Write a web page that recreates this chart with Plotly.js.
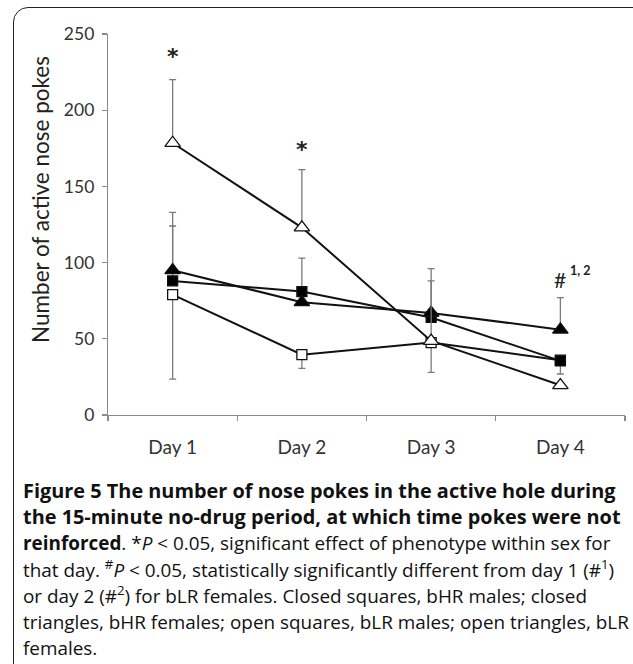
<!DOCTYPE html>
<html>
<head>
<meta charset="utf-8">
<script src="https://cdn.plot.ly/plotly-3.0.1.min.js"></script>
<style>
  html, body { margin: 0; padding: 0; background: #fff; }
  #wrap { position: relative; width: 633px; height: 664px; overflow: hidden; }
  #chart { position: absolute; left: 0; top: 0; width: 633px; height: 664px; }
  #frame { position: absolute; left: 13px; top: 7px; width: 640px; height: 680px;
           border: 1.6px solid #222; border-radius: 15px; pointer-events: none; box-sizing: border-box; }
</style>
</head>
<body>
<div id="wrap">
  <div id="chart"></div>
  <div id="frame"></div>
</div>
<script>
// ---- data ----
const days = ['Day 1', 'Day 2', 'Day 3', 'Day 4'];
const dayPos = [1, 2, 3, 4];
const yTicks = [0, 50, 100, 150, 200, 250];
const yTitle = 'Number of active nose pokes';

// closed squares, bHR males
const bhrMales = [88, 81, 64, 35.5];
const bhrMalesErrUp = [36, 22, null, null];
const bhrMalesErrDown = [null, null, null, 8.6];
// closed triangles, bHR females
const bhrFemales = [95, 74, 67, 56];
const bhrFemalesErrUp = [38, null, 21, 21];
const bhrFemalesErrDown = [null, null, null, null];
// open squares, bLR males
const blrMales = [79, 39.6, 47.5, 36];
const blrMalesErrUp = [null, null, null, null];
const blrMalesErrDown = [55.5, 9, 19.5, null];
// open triangles, bLR females
const blrFemales = [178.5, 123, 48.6, 19.5];
const blrFemalesErrUp = [41.5, 38, 47.4, null];
const blrFemalesErrDown = [null, null, null, null];

// significance marks
const starDays = [1, 2];
const starY = [235, 174];
const hashDay = 4;
const hashY = 88.6;

const captionLines = [
  '<b>Figure 5 The number of nose pokes in the active hole during</b>',
  '<b>the 15-minute no-drug period, at which time pokes were not</b>',
  '<b>reinforced</b>. *<i>P</i> &lt; 0.05, significant effect of phenotype within sex for',
  'that day. <sup>#</sup><i>P</i> &lt; 0.05, statistically significantly different from day 1 (#<sup>1</sup>)',
  'or day 2 (#<sup>2</sup>) for bLR females. Closed squares, bHR males; closed',
  'triangles, bHR females; open squares, bLR males; open triangles, bLR',
  'females.'
];
const captionSizes = [19.9, 19.9, 18.9, 18.9, 18.9, 18.9, 18.9];

// ---- styling ----
const W = 633, H = 664;
const M = { l: 108, r: 8, t: 34, b: 249 };
const plotW = W - M.l - M.r, plotH = H - M.t - M.b;
const errColor = '#7a7a7a';
function errBar(up, down) {
  return { type: 'data', symmetric: false, array: up, arrayminus: down,
           color: errColor, thickness: 1.3, width: 3.5 };
}
function series(name, y, up, down, symbol, size, fill) {
  return {
    type: 'scatter', mode: 'lines+markers', name: name,
    x: dayPos, y: y,
    line: { color: '#111', width: 2 },
    marker: { symbol: symbol, size: size, color: fill, line: { color: '#111', width: 1.3 } },
    error_y: errBar(up, down),
    cliponaxis: false, showlegend: false
  };
}

const traces = [
  series('bLR males', blrMales, blrMalesErrUp, blrMalesErrDown, 'square', 10, '#fff'),
  series('bHR males', bhrMales, bhrMalesErrUp, bhrMalesErrDown, 'square', 10, '#000'),
  series('bHR females', bhrFemales, bhrFemalesErrUp, bhrFemalesErrDown, 'triangle-up', 13.5, '#000'),
  series('bLR females', blrFemales, blrFemalesErrUp, blrFemalesErrDown, 'triangle-up', 13.5, '#fff')
];

const annotations = [];
starDays.forEach((d, i) => annotations.push({
  x: d, y: starY[i], xref: 'x', yref: 'y', text: '<b>*</b>', showarrow: false,
  font: { family: 'DejaVu Sans', size: 22, color: '#222' }
}));
annotations.push({
  x: hashDay, y: hashY, xref: 'x', yref: 'y', text: '#', showarrow: false,
  font: { family: 'Lato', size: 21, color: '#222' }
});
annotations.push({
  x: hashDay, y: hashY, xref: 'x', yref: 'y', text: '<b>1, 2</b>', showarrow: false,
  xanchor: 'left', xshift: 8, yshift: 9,
  font: { family: 'Lato', size: 12.5, color: '#222' }
});
// y-axis title, centred where the reference has it
annotations.push({
  x: (40 - M.l) / plotW, y: (H - M.b - 200) / plotH, xref: 'paper', yref: 'paper',
  text: yTitle, textangle: -90, showarrow: false, xanchor: 'center', yanchor: 'middle',
  font: { family: 'Lato', size: 22.5, color: '#222' }
});
const capTop = 490, capStep = 26.3, capLeft = 21;
captionLines.forEach((t, i) => annotations.push({
  x: (capLeft - M.l) / plotW, y: (H - M.b - (capTop + i * capStep)) / plotH,
  xref: 'paper', yref: 'paper',
  xanchor: 'left', yanchor: 'middle', align: 'left', text: t, showarrow: false,
  font: { family: 'Open Sans', size: captionSizes[i], color: '#111' }
}));

const layout = {
  width: W, height: H,
  margin: M,
  paper_bgcolor: '#fff', plot_bgcolor: '#fff',
  font: { family: 'Lato', color: '#333' },
  xaxis: {
    range: [0.5, 4.5], tickmode: 'array', tickvals: dayPos, ticktext: days,
    ticks: '', showgrid: false, zeroline: false,
    showline: true, linecolor: '#8a8a8a', linewidth: 1.2,
    tickfont: { family: 'Lato', size: 19, color: '#333' },
    ticklabelstandoff: 15,
    minor: { tickmode: 'linear', tick0: 0.5, dtick: 1, ticks: 'outside', ticklen: 5,
             tickcolor: '#8a8a8a', tickwidth: 1.2, showgrid: false }
  },
  yaxis: {
    range: [0, 250], tickmode: 'array', tickvals: yTicks,
    ticks: 'outside', ticklen: 5, tickcolor: '#8a8a8a', tickwidth: 1.2,
    showgrid: false, zeroline: false,
    showline: true, linecolor: '#8a8a8a', linewidth: 1.2,
    tickfont: { family: 'Lato', size: 17.5, color: '#333' },
    ticklabelstandoff: 4
  },
  annotations: annotations
};

Plotly.newPlot('chart', traces, layout, { displayModeBar: false, staticPlot: true });
</script>
</body>
</html>
